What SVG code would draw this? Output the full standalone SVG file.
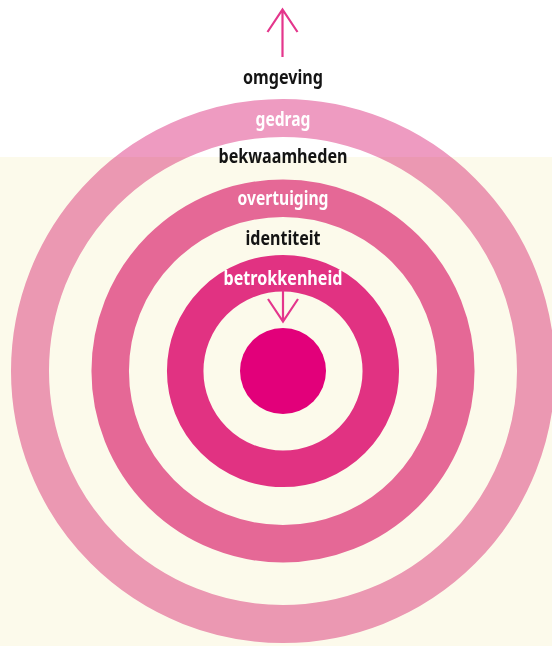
<svg xmlns="http://www.w3.org/2000/svg" width="552" height="646" viewBox="0 0 552 646">
<style>
.lbl{font-family:"Noto Sans","Liberation Sans",sans-serif;font-weight:bold;font-size:19px;text-anchor:middle}
.dark{fill:#141414}
.light{fill:#ffffff}
.ring{fill:none}
.arrow{fill:none;stroke:#e4368c;stroke-width:2.2;stroke-linecap:butt;stroke-linejoin:miter}
</style>
<rect x="0" y="0" width="552" height="646" fill="#ffffff"/>
<rect x="0" y="157" width="552" height="489" fill="#fcfaeb"/>
<g id="gedrag">
<circle class="ring" cx="283" cy="371" r="253" stroke="#ee9bc1" stroke-width="38" style="mix-blend-mode:multiply"/>
<text class="lbl light" x="283" y="126" textLength="55" lengthAdjust="spacingAndGlyphs">gedrag</text>
</g>
<g id="overtuiging">
<circle class="ring" cx="283" cy="371" r="172.8" stroke="#e56896" stroke-width="37.5"/>
<text class="lbl light" x="283" y="205" textLength="91" lengthAdjust="spacingAndGlyphs">overtuiging</text>
</g>
<g id="betrokkenheid">
<circle class="ring" cx="283" cy="371" r="97.8" stroke="#e13282" stroke-width="36.5"/>
<text class="lbl light" x="283" y="285" textLength="119" lengthAdjust="spacingAndGlyphs">betrokkenheid</text>
</g>
<g id="kern">
<circle cx="283" cy="371" r="43" fill="#e2007a"/>
</g>
<g id="omgeving">
<text class="lbl dark" x="283" y="84" textLength="80" lengthAdjust="spacingAndGlyphs">omgeving</text>
</g>
<g id="bekwaamheden">
<text class="lbl dark" x="283" y="163" textLength="129" lengthAdjust="spacingAndGlyphs">bekwaamheden</text>
</g>
<g id="identiteit">
<text class="lbl dark" x="283" y="245" textLength="75" lengthAdjust="spacingAndGlyphs">identiteit</text>
</g>
<g id="connectors">
<path class="arrow" d="M282.5 57 V9 M267.5 32 L282.5 9.5 L297.5 32"/>
<path class="arrow" d="M283 290 V321 M268 299 L283 321.5 L298 299"/>
</g>
</svg>
